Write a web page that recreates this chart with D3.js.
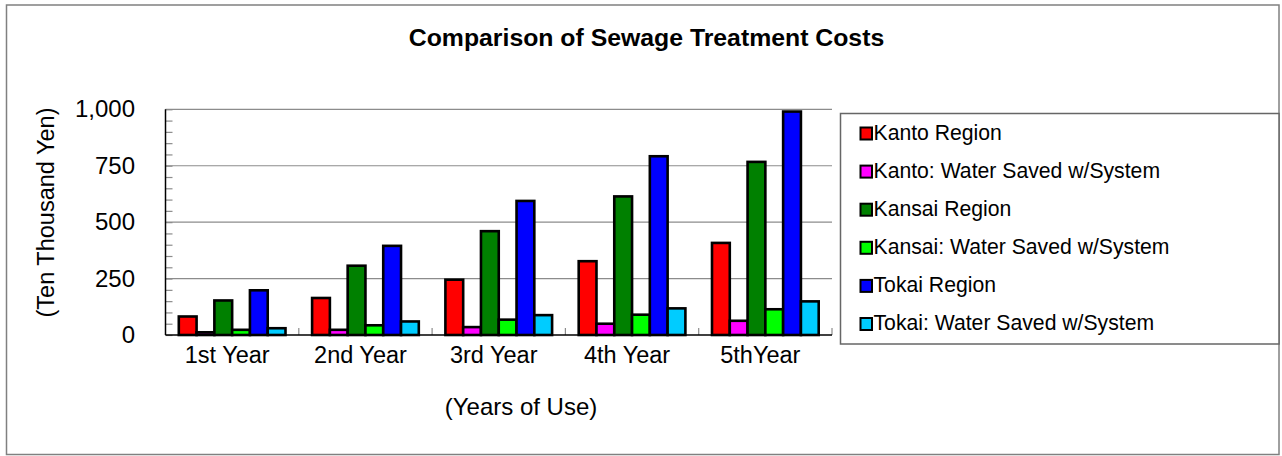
<!DOCTYPE html>
<html>
<head>
<meta charset="utf-8">
<script src="https://cdn.jsdelivr.net/npm/d3@7"></script>
<style>
  body { margin: 0; background: #fff; }
  svg { display: block; font-family: Arial, "Liberation Sans", sans-serif; }
</style>
</head>
<body>
<svg width="1282" height="456"></svg>
<script>
// chart data
var years = ["1st Year", "2nd Year", "3rd Year", "4th Year", "5thYear"];
var seriesNames = [
  "Kanto Region",
  "Kanto: Water Saved w/System",
  "Kansai Region",
  "Kansai: Water Saved w/System",
  "Tokai Region",
  "Tokai: Water Saved w/System"
];
var kanto = [82, 164, 245, 327, 408];
var kantoSaved = [12, 23, 35, 50, 63];
var kansai = [153, 307, 460, 614, 767];
var kansaiSaved = [23, 43, 68, 90, 114];
var tokai = [198, 395, 594, 792, 990];
var tokaiSaved = [30, 60, 88, 118, 149];
var yTicks = [0, 250, 500, 750, 1000];

var seriesValues = [kanto, kantoSaved, kansai, kansaiSaved, tokai, tokaiSaved];
var colors = ["#ff0000", "#ff00ff", "#008000", "#00ff00", "#0000ff", "#00ccff"];

var svg = d3.select("svg");

// outer frame
svg.append("rect")
  .attr("x", 6.5).attr("y", 5)
  .attr("width", 1272.5).attr("height", 449.5)
  .attr("fill", "#fff")
  .attr("stroke", "#808080")
  .attr("stroke-width", 1.5);

var plotLeft = 165.5, plotRight = 832, plotTop = 109.3, plotBottom = 335;

var x0 = d3.scaleBand().domain(years).range([plotLeft, plotRight]);
var x1 = d3.scaleBand().domain(seriesNames)
  .range([13.3, x0.bandwidth() - 13.3]);
var y = d3.scaleLinear().domain([0, 1000]).range([plotBottom, plotTop]);

// gridlines
svg.append("g")
  .selectAll("line")
  .data(yTicks.slice(1))
  .enter()
  .append("line")
  .attr("x1", plotLeft).attr("x2", plotRight)
  .attr("y1", function (d) { return y(d); })
  .attr("y2", function (d) { return y(d); })
  .attr("stroke", "#8c8c8c")
  .attr("stroke-width", 1.2);

// minor ticks on the value axis (inside)
var minor = svg.append("g")
  .attr("transform", "translate(" + plotLeft + ",0)")
  .call(d3.axisRight(y).tickValues(d3.range(0, 1001, 50)).tickSize(7).tickFormat(""));
minor.select(".domain").remove();
minor.selectAll("line").attr("stroke", "#8c8c8c").attr("stroke-width", 1.2);

// category separator ticks
svg.append("g")
  .selectAll("line")
  .data(years)
  .enter()
  .append("line")
  .attr("x1", function (d) { return x0(d) + x0.bandwidth(); })
  .attr("x2", function (d) { return x0(d) + x0.bandwidth(); })
  .attr("y1", plotBottom).attr("y2", plotBottom - 7)
  .attr("stroke", "#8c8c8c")
  .attr("stroke-width", 1.2);

// bars
var groups = svg.append("g")
  .selectAll("g")
  .data(years)
  .enter()
  .append("g")
  .attr("transform", function (d) { return "translate(" + x0(d) + ",0)"; });

groups.selectAll("rect")
  .data(function (d, i) {
    return seriesNames.map(function (s, j) {
      return { name: s, value: seriesValues[j][i], color: colors[j] };
    });
  })
  .enter()
  .append("rect")
  .attr("x", function (d) { return x1(d.name); })
  .attr("width", x1.bandwidth())
  .attr("y", function (d) { return y(d.value); })
  .attr("height", function (d) { return plotBottom - y(d.value); })
  .attr("fill", function (d) { return d.color; })
  .attr("stroke", "#000")
  .attr("stroke-width", 2.6);

// axis lines
svg.append("line")
  .attr("x1", plotLeft).attr("x2", plotLeft)
  .attr("y1", plotTop).attr("y2", plotBottom)
  .attr("stroke", "#000").attr("stroke-width", 1.5);
svg.append("line")
  .attr("x1", plotLeft).attr("x2", plotRight)
  .attr("y1", plotBottom).attr("y2", plotBottom)
  .attr("stroke", "#000").attr("stroke-width", 1.5);

// y tick labels
var yAxis = svg.append("g")
  .attr("transform", "translate(" + plotLeft + ",0)")
  .call(d3.axisLeft(y).tickValues(yTicks).tickFormat(d3.format(",")).tickSize(0).tickPadding(30.5));
yAxis.select(".domain").remove();
yAxis.selectAll("text")
  .style("font-size", "24px")
  .style("font-family", "Arial, 'Liberation Sans', sans-serif")
  .attr("fill", "#000");

// x tick labels
var xAxis = svg.append("g")
  .attr("transform", "translate(0," + plotBottom + ")")
  .call(d3.axisBottom(x0).tickSize(0).tickPadding(11));
xAxis.select(".domain").remove();
xAxis.selectAll("text")
  .attr("dx", -5)
  .style("font-size", "23.5px")
  .style("font-family", "Arial, 'Liberation Sans', sans-serif")
  .attr("fill", "#000");

// title
svg.append("text")
  .attr("x", 646.5).attr("y", 46)
  .attr("text-anchor", "middle")
  .style("font-size", "24.8px")
  .style("font-weight", "bold")
  .text("Comparison of Sewage Treatment Costs");

// axis titles
svg.append("text")
  .attr("transform", "translate(54,212.5) rotate(-90)")
  .attr("text-anchor", "middle")
  .style("font-size", "23.5px")
  .text("(Ten Thousand Yen)");

svg.append("text")
  .attr("x", 521).attr("y", 415)
  .attr("text-anchor", "middle")
  .style("font-size", "24px")
  .text("(Years of Use)");

// legend
svg.append("rect")
  .attr("x", 840.5).attr("y", 113.5)
  .attr("width", 438.5).attr("height", 230.5)
  .attr("fill", "#fff")
  .attr("stroke", "#666")
  .attr("stroke-width", 1.5);

var legend = svg.append("g")
  .selectAll("g")
  .data(seriesNames)
  .enter()
  .append("g")
  .attr("transform", function (d, i) { return "translate(0," + (139.5 + i * 38.1) + ")"; });

legend.append("rect")
  .attr("x", 860.5).attr("y", -12)
  .attr("width", 11.5).attr("height", 12)
  .attr("fill", function (d, i) { return colors[i]; })
  .attr("stroke", "#000")
  .attr("stroke-width", 2);

legend.append("text")
  .attr("x", 873.5).attr("y", 0)
  .style("font-size", "21.2px")
  .text(function (d) { return d; });
</script>
</body>
</html>
